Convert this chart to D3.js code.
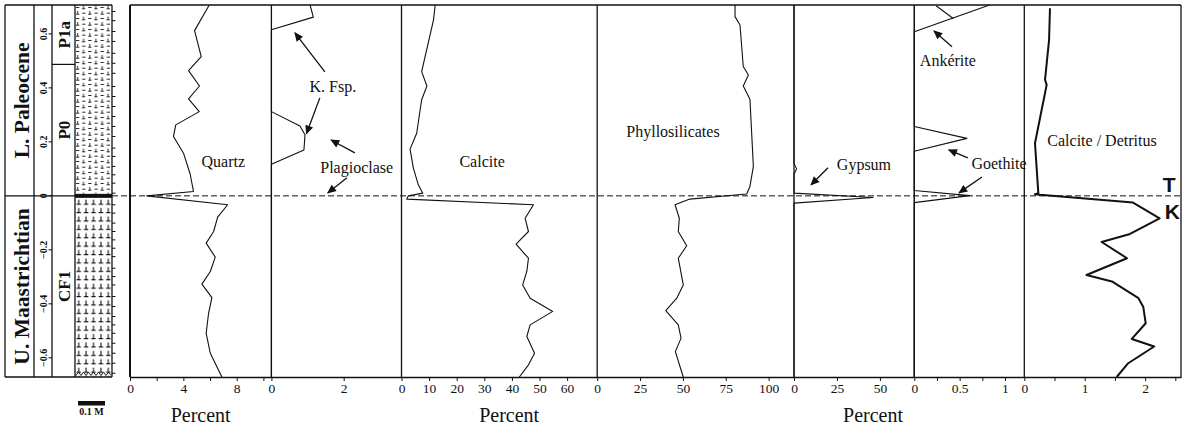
<!DOCTYPE html>
<html><head><meta charset="utf-8">
<script src="https://cdn.jsdelivr.net/npm/d3@7"></script>
<style>body{margin:0;background:#fff}svg{display:block}</style>
</head><body>
<svg id="c" width="1189" height="428"></svg>
<script>
// ---------------- DATA ----------------
const stages = ["L. Paleocene", "U. Maastrichtian"];
const zones = ["P1a", "P0", "CF1"];
const zoneBounds = [[0.707, 0.487], [0.487, 0], [0, -0.671]];
const depthTicks = [0.6, 0.4, 0.2, 0, -0.2, -0.4, -0.6];
const sampleDepths = [0.683,0.649,0.609,0.572,0.528,0.491,0.454,0.405,0.368,0.331,0.294,0.257,0.220,0.177,0.146,0.109,0.078,0.047,0.010,-0.033,-0.064,-0.101,-0.132,-0.163,-0.194,-0.225,-0.268,-0.299,-0.330,-0.373,-0.410,-0.447,-0.478,-0.509,-0.546,-0.583,-0.620,-0.657];

const quartzDepth = [0.707,0.612,0.516,0.464,0.407,0.359,0.312,0.263,0.220,0.158,0.081,0.016,0.000,-0.033,-0.079,-0.132,-0.175,-0.227,-0.280,-0.327,-0.377,-0.435,-0.509,-0.583,-0.671];
const quartzValue = [5.94,4.84,5.34,4.39,5.21,4.39,5.19,3.43,3.26,4.01,4.51,4.76,1.25,7.32,6.57,6.27,5.71,6.39,6.02,5.39,6.14,5.89,5.71,6.02,6.89];

const kfspDepth = [0.707,0.662,0.615,0.312,0.259,0.226,0.170,0.117,-0.671];
const kfspValue = [1.07,1.16,0,0,0.79,0.93,0.90,0,0];

const calciteDepth = [0.707,0.652,0.460,0.407,0.356,0.232,0.173,0.103,0.041,0.010,0.000,-0.012,-0.033,-0.083,-0.132,-0.179,-0.231,-0.280,-0.330,-0.379,-0.428,-0.478,-0.521,-0.583,-0.626,-0.671];
const calciteValue = [12.2,11.6,7.3,9.2,7.3,5.5,3.1,4.3,6.1,7.7,2.5,1.9,47.8,44.8,46.0,41.5,46.0,45.4,43.9,46.6,54.8,46.6,45.4,48.2,46.0,42.7];

const phylloDepth = [0.707,0.664,0.633,0.479,0.448,0.407,0.358,0.109,0.035,0.007,-0.012,-0.021,-0.033,-0.083,-0.132,-0.185,-0.231,-0.330,-0.379,-0.425,-0.478,-0.527,-0.577,-0.671];
const phylloValue = [80.4,80.4,83.3,85.2,88.2,85.2,89.1,91.1,89.1,87.2,54.1,50.2,45.4,47.9,47.3,52.2,47.3,50.2,46.4,40.0,47.3,48.9,45.6,50.2];

const gypsumDepth = [0.707,0.120,0.100,0.080,0.010,-0.006,-0.027,-0.671];
const gypsumValue = [0,0,1.5,0,0,46,0,0];

const ankeriteDepth = [0.707,0.608,-0.671];
const ankeriteValue = [0.83,0,0];
const ankerite2Depth = [0.704,0.657];
const ankerite2Value = [0.24,0.43];

const goethiteDepth = [0.707,0.257,0.213,0.165,0.020,0.001,-0.025,-0.671];
const goethiteValue = [0,0,0.58,0,0,0.61,0,0];

const calcDetDepth = [0.695,0.578,0.430,0.411,0.195,0.010,0.006,0.004,-0.025,-0.083,-0.141,-0.171,-0.231,-0.293,-0.317,-0.379,-0.412,-0.472,-0.530,-0.558,-0.620,-0.671];
const calcDetValue = [0.425,0.41,0.343,0.37,0.177,0.232,0.177,0.26,1.80,2.24,1.75,1.28,1.70,1.03,1.45,1.89,1.97,2.01,1.78,2.15,1.72,1.53];

const quartzTicks = [0,2,4,6,8,10], quartzLabels = [0,4,8];
const feldTicks = [0,2], feldLabels = [0,2];
const calciteTicks = [0,10,20,30,40,50,60], calciteLabels = [0,10,20,30,40,50,60];
const phylloTicks = [0,25,50,75,100], phylloLabels = [0,25,50,75,100];
const gypsumTicks = [0,25,50], gypsumLabels = [0,25,50];
const ankTicks = [0,0.25,0.5,0.75,1], ankLabels = [0,0.5,1];
const cdTicks = [0,0.5,1,1.5,2,2.5], cdLabels = [0,1,2];

// ---------------- LAYOUT ----------------
const svg = d3.select('#c');
const TOP = 5, BOT = 377;
const y = d3.scaleLinear().domain([0.707, -0.671]).range([TOP, BOT]);
const serif = "'Liberation Serif','Times New Roman',serif";
const sans = "'Liberation Sans',Arial,sans-serif";
const ink = "#111";

const edges = [130, 271.4, 401.5, 597.2, 794, 914.3, 1024.3, 1181];
const panels = [
  {max:10.6, ticks:quartzTicks, labels:quartzLabels},
  {max:3.6, ticks:feldTicks, labels:feldLabels},
  {max:70.9, ticks:calciteTicks, labels:calciteLabels},
  {max:114.8, ticks:phylloTicks, labels:phylloLabels},
  {max:70, ticks:gypsumTicks, labels:gypsumLabels},
  {max:1.213, ticks:ankTicks, labels:ankLabels},
  {max:2.594, ticks:cdTicks, labels:cdLabels}
];
panels.forEach((p,i)=>{ p.x = d3.scaleLinear().domain([0,p.max]).range([edges[i], edges[i+1]]); });

const defs = svg.append('defs');
// marl pattern (upper)
const pm = defs.append('pattern').attr('id','marl').attr('patternUnits','userSpaceOnUse')
  .attr('x',75).attr('y',5).attr('width',12.3).attr('height',11);
pm.append('path').attr('d','M1,2.5h3.2 M8.5,0.6v3.2 M7,3.8h3.2 M7.2,8.2h3.2 M2.6,6v3.2 M1,9.2h3.2')
  .attr('stroke',ink).attr('stroke-width',0.9).attr('fill','none');
// limestone pattern (lower)
const pl = defs.append('pattern').attr('id','lime').attr('patternUnits','userSpaceOnUse')
  .attr('x',75).attr('y',198).attr('width',7.4).attr('height',8.4);
pl.append('path').attr('d','M3.7,1.6v4.6 M1.5,6.2h4.4')
  .attr('stroke',ink).attr('stroke-width',1.1).attr('fill','none');

const mk = defs.append('marker').attr('id','ah').attr('viewBox','0 0 10 10')
  .attr('refX',9).attr('refY',5).attr('markerWidth',10).attr('markerHeight',9)
  .attr('markerUnits','userSpaceOnUse').attr('orient','auto');
mk.append('path').attr('d','M0,0.5 L10,5 L0,9.5 Z').attr('fill',ink);

// ---------------- LEFT STRATIGRAPHIC COLUMN ----------------
const L = svg.append('g');
L.append('rect').attr('x',75).attr('y',y(0.707)).attr('width',37).attr('height',y(0)-y(0.707)).attr('fill','url(#marl)');
L.append('rect').attr('x',75).attr('y',y(0)).attr('width',37).attr('height',y(-0.671)-y(0)).attr('fill','url(#lime)');
L.append('rect').attr('x',75).attr('y',y(0)-2).attr('width',37).attr('height',4).attr('fill',ink);
// wavy base
let wz = 'M76,'+(BOT-2.5);
for (let xx=76, k=0; xx<=111; xx+=2.5, k++) wz += ' L'+xx+','+(BOT-(k%2?5:1.5));
L.append('path').attr('d',wz).attr('fill','none').attr('stroke',ink).attr('stroke-width',0.9);

[5,34,52,75,112].forEach(xx=>L.append('line').attr('x1',xx).attr('x2',xx).attr('y1',TOP).attr('y2',BOT).attr('stroke',ink).attr('stroke-width',1.3));
L.append('line').attr('x1',5).attr('x2',112).attr('y1',TOP).attr('y2',TOP).attr('stroke',ink).attr('stroke-width',1.3);
L.append('line').attr('x1',5).attr('x2',112).attr('y1',BOT).attr('y2',BOT).attr('stroke',ink).attr('stroke-width',1.3);
L.append('line').attr('x1',5).attr('x2',75).attr('y1',y(0)).attr('y2',y(0)).attr('stroke',ink).attr('stroke-width',1.3);
L.append('line').attr('x1',52).attr('x2',75).attr('y1',y(zoneBounds[0][1])).attr('y2',y(zoneBounds[0][1])).attr('stroke',ink).attr('stroke-width',1.2);

// stage names
const stageBounds = [[0.707,0],[0,-0.671]];
stages.forEach((s,i)=>{
  L.append('text').attr('transform',`translate(21,${(y(stageBounds[i][0])+y(stageBounds[i][1]))/2}) rotate(-90)`)
   .attr('text-anchor','middle').attr('dy','0.35em').attr('font-family',serif).attr('font-weight','bold')
   .attr('font-size',21.5).attr('fill',ink).text(s);
});
// depth ticks
depthTicks.forEach(v=>{
  L.append('text').attr('transform',`translate(43,${y(v)}) rotate(-90)`).attr('text-anchor','middle').attr('dy','0.35em')
   .attr('font-family',serif).attr('font-weight','bold').attr('font-size',10).attr('fill',ink).text(v===0?'0':d3.format('.1f')(v));
  L.append('line').attr('x1',48.5).attr('x2',52).attr('y1',y(v)).attr('y2',y(v)).attr('stroke',ink).attr('stroke-width',1);
});
// zones
zones.forEach((z,i)=>{
  L.append('text').attr('transform',`translate(64,${(y(zoneBounds[i][0])+y(zoneBounds[i][1]))/2}) rotate(-90)`)
   .attr('text-anchor','middle').attr('dy','0.35em').attr('font-family',serif).attr('font-weight','bold')
   .attr('font-size',17).attr('fill',ink).text(z);
});
// sample ticks
L.selectAll('.st').data(sampleDepths).enter().append('line')
  .attr('x1',112).attr('x2',115.5).attr('y1',d=>y(d)).attr('y2',d=>y(d)).attr('stroke',ink).attr('stroke-width',1);
// scale bar
L.append('rect').attr('x',78).attr('y',401).attr('width',27).attr('height',4.5).attr('fill',ink);
L.append('text').attr('x',91.5).attr('y',415).attr('text-anchor','middle').attr('font-family',serif).attr('font-weight','bold')
  .attr('font-size',10).attr('fill',ink).text('0.1 M');

// ---------------- PANELS ----------------
const G = svg.append('g');
// frame
G.append('line').attr('x1',edges[0]).attr('x2',edges[7]).attr('y1',TOP).attr('y2',TOP).attr('stroke',ink).attr('stroke-width',1.4);
edges.forEach((xx,i)=>G.append('line').attr('x1',xx).attr('x2',xx).attr('y1',TOP).attr('y2',BOT)
  .attr('stroke',ink).attr('stroke-width',i===0?2:1.3));

// axes
panels.forEach(p=>{
  const ax = d3.axisBottom(p.x).tickValues(p.ticks).tickSize(4).tickSizeOuter(0).tickPadding(2)
    .tickFormat(v=>p.labels.includes(v)?d3.format('~g')(v):'');
  const g = G.append('g').attr('transform',`translate(0,${BOT})`).call(ax);
  g.select('.domain').attr('stroke',ink).attr('stroke-width',1.4);
  g.selectAll('.tick line').attr('stroke',ink).attr('stroke-width',1);
  g.selectAll('.tick text').attr('font-family',serif).attr('font-size',13.5).attr('fill',ink);
});

// K/T dashed line
G.append('line').attr('x1',112).attr('x2',edges[7]).attr('y1',y(0)).attr('y2',y(0))
  .attr('stroke',ink).attr('stroke-width',1).attr('stroke-dasharray','6,3');

// curves
function curve(pi, depths, vals, w){
  const pts = depths.map((d,i)=>[d, vals[i]]);
  const ln = d3.line().x(d=>panels[pi].x(d[1])).y(d=>y(d[0]));
  G.append('path').attr('d',ln(pts)).attr('fill','none').attr('stroke',ink)
    .attr('stroke-width',w||1.1).attr('stroke-linejoin','round');
}
curve(0, quartzDepth, quartzValue);
curve(1, kfspDepth, kfspValue);
curve(2, calciteDepth, calciteValue);
curve(3, phylloDepth, phylloValue);
curve(4, gypsumDepth, gypsumValue);
curve(5, ankeriteDepth, ankeriteValue);
curve(5, ankerite2Depth, ankerite2Value);
curve(5, goethiteDepth, goethiteValue);
curve(6, calcDetDepth, calcDetValue, 2);

// annotations in panel data units
const labels = [
  {p:0, v:6.99, d:0.126, t:'Quartz'},
  {p:1, v:1.70, d:0.404, t:'K. Fsp.'},
  {p:1, v:2.36, d:0.107, t:'Plagioclase'},
  {p:2, v:29.2, d:0.126, t:'Calcite'},
  {p:3, v:44.2, d:0.237, t:'Phyllosilicates'},
  {p:4, v:40.7, d:0.115, t:'Gypsum'},
  {p:5, v:0.37, d:0.50, t:'Ankérite'},
  {p:5, v:0.934, d:0.122, t:'Goethite'},
  {p:6, v:1.286, d:0.204, t:'Calcite / Detritus'}
];
labels.forEach(l=>{
  G.append('text').attr('x',panels[l.p].x(l.v)).attr('y',y(l.d)).attr('dy','0.35em').attr('text-anchor','middle')
   .attr('font-family',serif).attr('font-size',16).attr('fill',ink).text(l.t);
});
const arrows = [
  {p:1, from:[1.48,0.459], to:[0.65,0.604]},
  {p:1, from:[1.34,0.363], to:[0.97,0.230]},
  {p:1, from:[2.31,0.159], to:[1.65,0.207]},
  {p:1, from:[2.09,0.067], to:[1.56,0.011]},
  {p:4, from:[19.8,0.104], to:[9.9,0.041]},
  {p:5, from:[0.416,0.552], to:[0.217,0.611]},
  {p:5, from:[0.59,0.141], to:[0.38,0.170]},
  {p:5, from:[0.746,0.070], to:[0.493,0.011]}
];
arrows.forEach(a=>{
  const s = panels[a.p].x;
  G.append('line').attr('x1',s(a.from[0])).attr('y1',y(a.from[1])).attr('x2',s(a.to[0])).attr('y2',y(a.to[1]))
   .attr('stroke',ink).attr('stroke-width',1.3).attr('marker-end','url(#ah)');
});
// T and K
[{v:2.40,d:0.041,t:'T'},{v:2.45,d:-0.059,t:'K'}].forEach(l=>{
  G.append('text').attr('x',panels[6].x(l.v)).attr('y',y(l.d)).attr('dy','0.35em').attr('text-anchor','middle')
   .attr('font-family',sans).attr('font-weight','bold').attr('font-size',21).attr('fill',ink).text(l.t);
});
// axis titles
const titles = [{p:0, v:5.3},{p:2, v:39},{p:4, v:46}];
titles.forEach(t=>{
  G.append('text').attr('x',panels[t.p].x(t.v)).attr('y',422).attr('text-anchor','middle')
   .attr('font-family',serif).attr('font-size',20).attr('fill',ink).text('Percent');
});
</script>
</body></html>
